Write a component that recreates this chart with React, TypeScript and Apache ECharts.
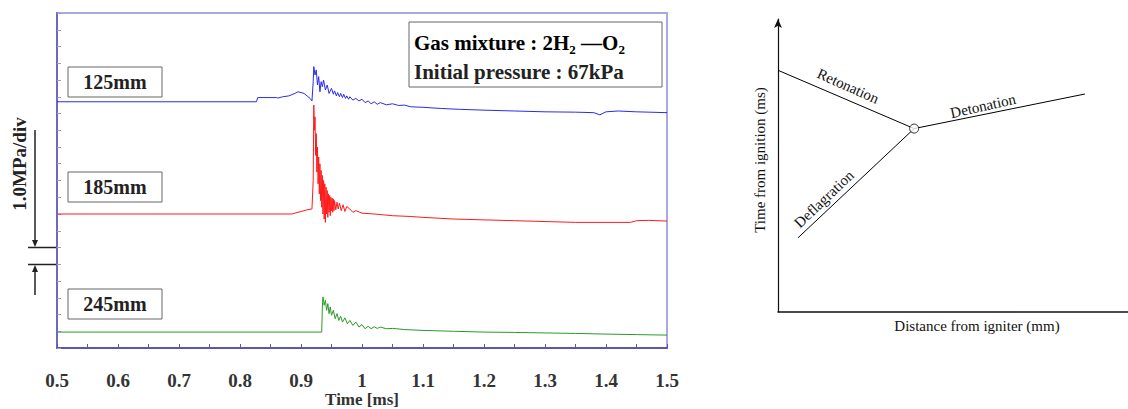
import React, { useEffect, useRef } from "react";
import * as echarts from "echarts";

// ---------- Left chart: pressure histories ----------
const X_TICKS = [0.5, 0.6, 0.7, 0.8, 0.9, 1.0, 1.1, 1.2, 1.3, 1.4, 1.5];
const SERIES_NAMES = ["125mm", "185mm", "245mm"];
const OFFSETS = [14.7, 8.0, 0.95]; // trace baselines in MPa divisions

const T_125 = [0.5, 0.827, 0.829, 0.86, 0.862, 0.87, 0.88, 0.89, 0.895, 0.9, 0.905, 0.91, 0.915, 0.918, 0.92, 0.921, 0.923, 0.925, 0.927, 0.929, 0.931, 0.933, 0.935, 0.937, 0.94, 0.943, 0.946, 0.95, 0.953, 0.955, 0.958, 0.96, 0.963, 0.965, 0.968, 0.97, 0.973, 0.975, 0.978, 0.98, 0.985, 0.99, 0.995, 1.0, 1.005, 1.01, 1.015, 1.02, 1.025, 1.03, 1.04, 1.05, 1.06, 1.07, 1.08, 1.1, 1.13, 1.16, 1.2, 1.25, 1.3, 1.35, 1.38, 1.39, 1.4, 1.42, 1.45, 1.5];
const P_125 = [0, 0, 0.25, 0.25, 0.22, 0.3, 0.35, 0.5, 0.6, 0.55, 0.5, 0.35, 0.2, 0.05, 1.2, 2.1, 1.6, 1.9, 1.0, 1.5, 0.6, 1.2, 0.9, 1.3, 0.7, 1.0, 0.5, 0.8, 0.45, 0.65, 0.35, 0.55, 0.3, 0.5, 0.25, 0.45, 0.2, 0.35, 0.15, 0.3, 0.1, 0.2, 0.05, 0.15, -0.05, 0.05, -0.12, 0.0, -0.15, -0.05, -0.18, -0.12, -0.22, -0.2, -0.3, -0.33, -0.4, -0.45, -0.5, -0.55, -0.6, -0.62, -0.65, -0.78, -0.6, -0.55, -0.6, -0.65];

const T_185 = [0.5, 0.885, 0.89, 0.9, 0.91, 0.918, 0.92, 0.921, 0.922, 0.923, 0.924, 0.925, 0.926, 0.927, 0.928, 0.929, 0.93, 0.931, 0.932, 0.933, 0.934, 0.935, 0.936, 0.937, 0.938, 0.939, 0.94, 0.941, 0.942, 0.943, 0.944, 0.945, 0.946, 0.947, 0.948, 0.949, 0.95, 0.951, 0.952, 0.953, 0.954, 0.955, 0.957, 0.959, 0.961, 0.963, 0.966, 0.969, 0.972, 0.975, 0.98, 0.985, 0.99, 1.0, 1.02, 1.05, 1.08, 1.1, 1.15, 1.2, 1.25, 1.3, 1.35, 1.4, 1.44, 1.45, 1.47, 1.5];
const P_185 = [0, 0, 0.05, 0.15, 0.25, 0.3, 2.0, 6.5, 5.0, 5.8, 3.5, 4.8, 2.5, 4.0, 1.8, 3.4, 1.2, 3.0, 0.8, 2.6, 0.4, 2.3, 0.0, 2.0, -0.3, 1.8, -0.5, 1.6, 0.0, 1.4, -0.2, 1.2, 0.1, 1.1, -0.1, 1.0, 0.2, 0.95, 0.1, 0.9, 0.2, 0.8, 0.25, 0.7, 0.3, 0.65, 0.2, 0.55, 0.15, 0.45, 0.3, 0.1, 0.2, 0.05, 0.0, -0.1, -0.15, -0.2, -0.3, -0.35, -0.4, -0.45, -0.5, -0.5, -0.5, -0.4, -0.38, -0.42];

const T_245 = [0.5, 0.934, 0.935, 0.936, 0.938, 0.94, 0.942, 0.944, 0.946, 0.948, 0.95, 0.953, 0.956, 0.959, 0.962, 0.965, 0.968, 0.972, 0.976, 0.98, 0.985, 0.99, 0.995, 1.0, 1.005, 1.01, 1.015, 1.02, 1.025, 1.03, 1.04, 1.05, 1.07, 1.1, 1.15, 1.2, 1.25, 1.3, 1.35, 1.4, 1.45, 1.5];
const P_245 = [0, 0, 1.5, 2.1, 1.6, 1.9, 1.3, 1.7, 1.1, 1.5, 1.0, 1.3, 0.8, 1.1, 0.7, 0.95, 0.6, 0.85, 0.5, 0.7, 0.4, 0.6, 0.3, 0.45, 0.2, 0.35, 0.2, 0.32, 0.22, 0.3, 0.2, 0.22, 0.15, 0.1, 0.05, 0.0, -0.02, -0.05, -0.08, -0.12, -0.15, -0.18];

const TRACE_T = [T_125, T_185, T_245];
const TRACE_P = [P_125, P_185, P_245];
const TRACE_COLORS = ["#2a2af0", "#ff1a1a", "#2a9a2a"];

// ---------- Right chart: x-t diagram ----------
const WAVE_NAMES = ["Retonation", "Detonation", "Deflagration"];
const WAVE_X = [
  [0, 38.9],
  [38.9, 87.7],
  [5.7, 38.9],
];
const WAVE_Y = [
  [82.5, 62.6],
  [62.6, 74.4],
  [25.3, 62.6],
];
const JUNCTION = [38.9, 62.6];

const SERIF = '"Liberation Serif", "Times New Roman", serif';

export default function App() {
  const ref = useRef<HTMLDivElement>(null);

  useEffect(() => {
    if (!ref.current) return;
    const chart = echarts.init(ref.current, undefined, { renderer: "svg" });

    const traceSeries = SERIES_NAMES.map((name, i) => ({
      name,
      type: "line",
      xAxisIndex: 0,
      yAxisIndex: 0,
      symbol: "none",
      silent: true,
      lineStyle: { color: TRACE_COLORS[i], width: 1 },
      data: TRACE_T[i].map((t, k) => [t, TRACE_P[i][k] + OFFSETS[i]]),
    }));

    const waveSeries = WAVE_NAMES.map((name, i) => ({
      name,
      type: "line",
      xAxisIndex: 1,
      yAxisIndex: 1,
      symbol: "none",
      silent: true,
      lineStyle: { color: "#000", width: 1 },
      data: WAVE_X[i].map((x, k) => [x, WAVE_Y[i][k]]),
    }));

    const labelBox = (y: number, text: string) => [
      {
        type: "rect",
        shape: { x: 68, y, width: 94, height: 30 },
        style: { fill: "#fff", stroke: "#666", lineWidth: 1 },
      },
      {
        type: "text",
        x: 115,
        y: y + 15,
        style: {
          text,
          font: `bold 20px ${SERIF}`,
          fill: "#222",
          align: "center",
          verticalAlign: "middle",
        },
      },
    ];

    const option = {
      animation: false,
      grid: [
        {
          left: 57,
          top: 13,
          width: 610,
          height: 335,
          show: true,
          borderColor: "#a8a8e4",
          borderWidth: 2,
          backgroundColor: "transparent",
          containLabel: false,
          outerBoundsMode: "none",
        },
        { left: 778, top: 19, width: 350, height: 293, containLabel: false, outerBoundsMode: "none" },
      ],
      xAxis: [
        {
          gridIndex: 0,
          type: "value",
          min: X_TICKS[0],
          max: X_TICKS[X_TICKS.length - 1],
          interval: 0.1,
          axisLine: { lineStyle: { color: "#5858b0", width: 2 } },
          axisTick: { inside: true, length: 4, lineStyle: { color: "#5858b0" } },
          minorTick: { show: true, splitNumber: 2, length: 4, lineStyle: { color: "#5858b0" } },
          splitLine: { show: false },
          axisLabel: {
            margin: 24,
            fontFamily: SERIF,
            fontWeight: "bold",
            fontSize: 19,
            lineHeight: 17,
            color: "#333",
            formatter: (v: number) => String(Math.round(v * 10) / 10),
          },
          name: "Time [ms]",
          nameLocation: "middle",
          nameGap: 43,
          nameMoveOverlap: false,
          nameTextStyle: { fontFamily: SERIF, fontWeight: "bold", fontSize: 17, lineHeight: 16, color: "#333" },
        },
        {
          gridIndex: 1,
          type: "value",
          min: 0,
          max: 100,
          axisLine: { lineStyle: { color: "#111", width: 1.5 } },
          axisTick: { show: false },
          axisLabel: { show: false },
          splitLine: { show: false },
        },
      ],
      yAxis: [
        {
          gridIndex: 0,
          type: "value",
          min: 0,
          max: 20,
          interval: 1,
          axisLine: { show: true, lineStyle: { color: "#6a6ac0", width: 2 } },
          axisTick: { show: true, inside: true, length: 4, lineStyle: { color: "#9a9ad8" } },
          axisLabel: { show: false },
          splitLine: { show: false },
        },
        {
          gridIndex: 1,
          type: "value",
          min: 0,
          max: 100,
          axisLine: {
            show: true,
            symbol: ["none", "arrow"],
            symbolSize: [6, 9],
            lineStyle: { color: "#111", width: 1.2 },
          },
          axisTick: { show: false },
          axisLabel: { show: false },
          splitLine: { show: false },
        },
      ],
      series: [
        ...traceSeries,
        ...waveSeries,
        {
          name: "junction",
          type: "scatter",
          xAxisIndex: 1,
          yAxisIndex: 1,
          silent: true,
          symbol: "circle",
          symbolSize: 9,
          itemStyle: { color: "#fff", borderColor: "#000", borderWidth: 1 },
          data: [JUNCTION],
          z: 5,
        },
      ],
      graphic: [
        ...labelBox(67, SERIES_NAMES[0]),
        ...labelBox(172, SERIES_NAMES[1]),
        ...labelBox(289, SERIES_NAMES[2]),
        {
          type: "rect",
          shape: { x: 409, y: 22, width: 253, height: 65 },
          style: { fill: "#fff", stroke: "#666", lineWidth: 1 },
        },
        {
          type: "text",
          x: 414,
          y: 43,
          style: {
            text: "{a|Gas mixture : 2H}{s|2}{a| —O}{s|2}",
            verticalAlign: "middle",
            rich: {
              a: { fontFamily: SERIF, fontWeight: "bold", fontSize: 21, lineHeight: 26, color: "#222", verticalAlign: "middle" },
              s: { fontFamily: SERIF, fontWeight: "bold", fontSize: 13, lineHeight: 14, color: "#222", verticalAlign: "bottom" },
            },
          },
        },
        {
          type: "text",
          x: 414,
          y: 72,
          style: {
            text: "Initial pressure : 67kPa",
            font: `bold 21px ${SERIF}`,
            fill: "#222",
            verticalAlign: "middle",
          },
        },
        // scale bar
        {
          type: "text",
          x: 19,
          y: 164,
          rotation: Math.PI / 2,
          style: {
            text: "1.0MPa/div",
            font: `bold 19px ${SERIF}`,
            fill: "#222",
            align: "center",
            verticalAlign: "middle",
          },
        },
        { type: "line", shape: { x1: 35, y1: 130, x2: 35, y2: 242 }, style: { stroke: "#222", lineWidth: 1.5 } },
        { type: "polygon", shape: { points: [[32, 240], [38, 240], [35, 247]] }, style: { fill: "#222" } },
        { type: "line", shape: { x1: 28, y1: 247.5, x2: 57, y2: 247.5 }, style: { stroke: "#222", lineWidth: 1.5 } },
        { type: "line", shape: { x1: 28, y1: 264.5, x2: 57, y2: 264.5 }, style: { stroke: "#222", lineWidth: 1.5 } },
        { type: "polygon", shape: { points: [[32, 272], [38, 272], [35, 265]] }, style: { fill: "#222" } },
        { type: "line", shape: { x1: 35, y1: 270, x2: 35, y2: 295 }, style: { stroke: "#222", lineWidth: 1.5 } },
        // right chart texts
        {
          type: "text",
          x: 760,
          y: 160,
          rotation: Math.PI / 2,
          style: { text: "Time from ignition (ms)", font: `15px ${SERIF}`, fill: "#111", align: "center", verticalAlign: "middle" },
        },
        {
          type: "text",
          x: 977,
          y: 326,
          style: { text: "Distance from igniter (mm)", font: `15px ${SERIF}`, fill: "#111", align: "center", verticalAlign: "middle" },
        },
        {
          type: "text",
          x: 848,
          y: 86,
          rotation: -0.42,
          style: { text: WAVE_NAMES[0], font: `15px ${SERIF}`, fill: "#111", align: "center", verticalAlign: "middle" },
        },
        {
          type: "text",
          x: 983,
          y: 106,
          rotation: 0.22,
          style: { text: WAVE_NAMES[1], font: `15px ${SERIF}`, fill: "#111", align: "center", verticalAlign: "middle" },
        },
        {
          type: "text",
          x: 824,
          y: 199,
          rotation: 0.76,
          style: { text: WAVE_NAMES[2], font: `15px ${SERIF}`, fill: "#111", align: "center", verticalAlign: "middle" },
        },
      ],
    };

    chart.setOption(option as any);
    return () => chart.dispose();
  }, []);

  return (
    <div
      ref={ref}
      style={{ position: "absolute", left: 0, top: 0, width: 1128, height: 409, background: "#fff" }}
    />
  );
}
